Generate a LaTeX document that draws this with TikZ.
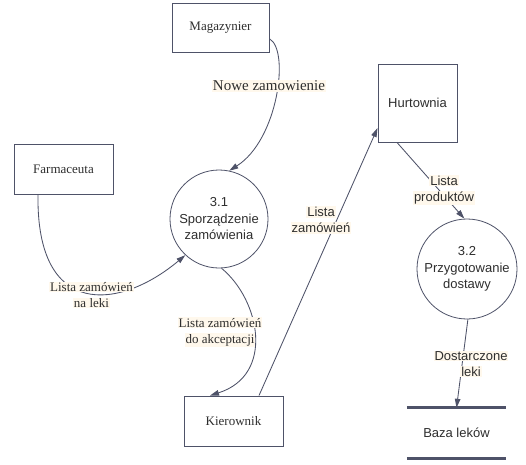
\documentclass[tikz,border=0pt]{standalone}
\usepackage{fontspec}
\setmainfont{Liberation Serif}
\setsansfont{Liberation Sans}
\usetikzlibrary{arrows.meta}
\definecolor{strk}{HTML}{4E5268}
\definecolor{cream}{HTML}{FFF8EC}
\definecolor{txt}{HTML}{2E2E2E}
\newcommand{\cb}[1]{{\setlength{\fboxsep}{0.8pt}\colorbox{cream}{#1}}}
\begin{document}
\begin{tikzpicture}[x=1pt,y=-1pt,
 entity/.style={draw=strk, line width=0.95pt, minimum width=97pt, minimum height=49pt, inner sep=0pt, font=\fontsize{13}{16}\selectfont, text=txt},
 proc/.style={circle, draw=strk, line width=0.8pt, inner sep=0pt, align=center, font=\sffamily\fontsize{13}{16.5}\selectfont, text=txt},
 flow/.style={draw=strk, line width=0.85pt, -{Triangle[length=9pt,width=5.5pt]}},
 lbl/.style={inner sep=0pt, align=center, text=txt, font=\fontsize{13}{16}\selectfont},
 slbl/.style={inner sep=0pt, align=center, text=txt, font=\sffamily\fontsize{13}{16}\selectfont}]
\useasboundingbox[fill=white] (0,0) rectangle (526,464);

\node[entity] (mag) at (220.5,27.5) {Magazynier};
\node[entity, minimum width=99pt, minimum height=50pt] (far) at (63.5,169) {Farmaceuta};
\node[entity, minimum width=99pt, minimum height=50pt] (kie) at (233.5,421) {Kierownik};
\node[entity, minimum width=79pt, minimum height=78pt, font=\sffamily\fontsize{13}{16}\selectfont] (hur) at (417.5,103) {Hurtownia};
\node[proc, minimum size=98pt] (c31) at (219,219) {3.1\\Sporządzenie\\zamówienia};
\node[proc, minimum size=100pt] (c32) at (467,269) {3.2\\Przygotowanie\\dostawy};
\node[minimum width=99pt, minimum height=50pt, inner sep=0pt, text=txt, font=\sffamily\fontsize{13}{16}\selectfont] (baza) at (456.5,433) {Baza leków};
\draw[strk, line width=3pt] (baza.north west) -- (baza.north east);
\draw[strk, line width=3pt] (baza.south west) -- (baza.south east);

\draw[flow] (mag.-13) .. controls (290,50) and (278,140) .. (c31.78);
\draw[flow] ([xshift=-25.5pt]far.south) .. controls (36,320) and (120,310) .. (c31.-133);
\draw[flow] (c31.-87) .. controls (260,300) and (275,375) .. ([xshift=-23.5pt]kie.north);
\draw[flow] ([xshift=25.5pt]kie.north) -- ([yshift=-25pt]hur.west);
\draw[flow] ([xshift=-20.5pt]hur.south) -- (c32.93);
\draw[flow] (c32.-89) -- (baza.north);

\node[lbl, font=\fontsize{15}{18}\selectfont] (l1) at (269,86) {\cb{Nowe zamowienie}};
\node[lbl] (l2) at (91.5,295) {\cb{Lista zamówień}\\\cb{na leki}};
\node[lbl] (l3) at (220,332) {\cb{Lista zamówień}\\\cb{do akceptacji}};
\node[slbl] (l4) at (321,220) {\cb{Lista}\\\cb{zamówień}};
\node[slbl] (l5) at (444,190) {\cb{Lista}\\\cb{produktów}};
\node[slbl] (l6) at (471,364) {\cb{Dostarczone}\\\cb{leki}};
\end{tikzpicture}
\end{document}
